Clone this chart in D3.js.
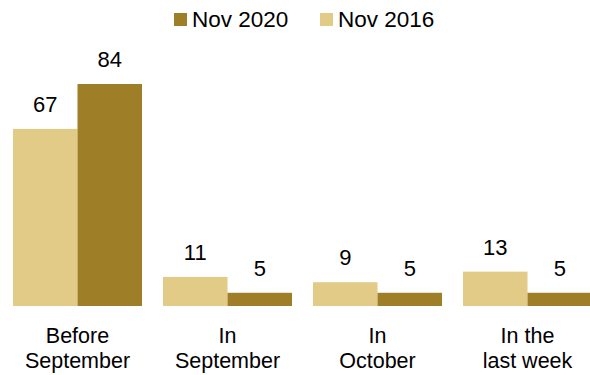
<!DOCTYPE html>
<html><head><meta charset="utf-8">
<script src="https://cdn.jsdelivr.net/npm/d3@7"></script>
<style>body{margin:0;background:#fff}svg{display:block}text{font-family:"Liberation Sans",Arial,sans-serif;fill:#000}</style>
</head><body><svg id="c" width="590" height="375"></svg>
<script>
const categories = [["Before","September"],["In","September"],["In","October"],["In the","last week"]];
const seriesNames = ["Nov 2016","Nov 2020"];
const nov2016 = [67, 11, 9, 13];
const nov2020 = [84, 5, 5, 5];
const legendOrder = ["Nov 2020","Nov 2016"];
const colors = {"Nov 2016":"#E2CA87","Nov 2020":"#9E7E26"};

const svg = d3.select("#c");
const baseY = 306;
const y = d3.scaleLinear().domain([0,84]).range([baseY, 84]);
const x0 = d3.scaleBand().domain(d3.range(categories.length)).range([13, 592]).paddingInner(0.14).paddingOuter(0);
const x1 = d3.scaleBand().domain(seriesNames).range([0, x0.bandwidth()]);
const vals = {"Nov 2016":nov2016,"Nov 2020":nov2020};

const g = svg.selectAll("g.grp").data(categories).join("g").attr("class","grp")
  .attr("transform",(d,i)=>`translate(${x0(i)},0)`);
g.each(function(d,i){
  const gg = d3.select(this);
  seriesNames.forEach(s=>{
    const v = vals[s][i];
    gg.append("rect").attr("x",x1(s)).attr("y",y(v)).attr("width",x1.bandwidth()).attr("height",baseY-y(v)).attr("fill",colors[s]);
    gg.append("text").attr("x",x1(s)+x1.bandwidth()/2).attr("y",y(v)-17).attr("text-anchor","middle").attr("font-size",22).text(v);
  });
  const t = gg.append("text").attr("x",x0.bandwidth()/2).attr("y",343).attr("text-anchor","middle").attr("font-size",21.5);
  d.forEach((line,k)=>t.append("tspan").attr("x",x0.bandwidth()/2).attr("dy",k?25:0).text(line));
});

const legX = [174, 320];
const lg = svg.selectAll("g.leg").data(legendOrder).join("g").attr("class","leg").attr("transform",(d,i)=>`translate(${legX[i]},13)`);
lg.append("rect").attr("width",13).attr("height",13).attr("fill",d=>colors[d]);
lg.append("text").attr("x",18).attr("y",13.5).attr("font-size",22.5).text(d=>d);
</script></body></html>
